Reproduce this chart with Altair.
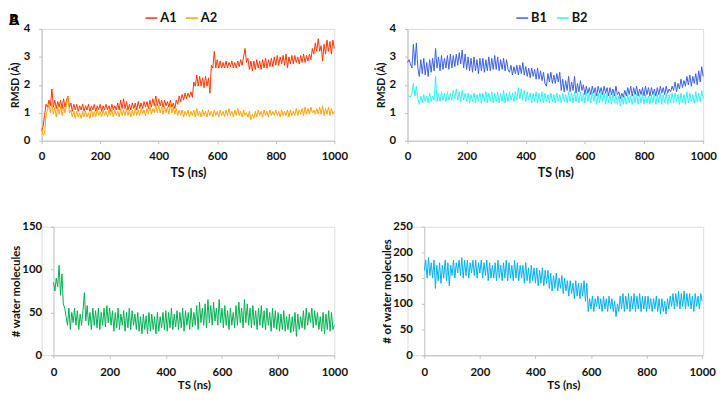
import altair as alt
import pandas as pd

# time axis (ns), one sample every 5 ns
ts = list(range(0, 1001, 5))

a1 = [0.35, 0.5, 0.9, 1.3, 1.2, 1.45, 1.25, 1.85, 1.2, 1.45,
      1.15, 1.4, 1.2, 1.45, 1.15, 1.5, 1.2, 1.45, 1.6, 1.2,
      1.35, 1.05, 1.3, 1.1, 1.3, 1.05, 1.25, 1.1, 1.3, 1.05,
      1.25, 1.1, 1.3, 1.05, 1.25, 1.1, 1.3, 1.05, 1.25, 1.1,
      1.3, 1.05, 1.25, 1.1, 1.3, 1.1, 1.25, 1.05, 1.3, 1.1,
      1.25, 1.1, 1.35, 1.1, 1.45, 1.15, 1.5, 1.15, 1.4, 1.1,
      1.3, 1.1, 1.35, 1.15, 1.35, 1.1, 1.4, 1.15, 1.35, 1.15,
      1.4, 1.2, 1.4, 1.15, 1.45, 1.2, 1.5, 1.25, 1.6, 1.25,
      1.5, 1.25, 1.45, 1.2, 1.45, 1.25, 1.4, 1.2, 1.45, 1.2,
      1.35, 1.15, 1.45, 1.3, 1.6, 1.4, 1.65, 1.45, 1.7, 1.5,
      1.7, 1.55, 1.75, 1.55, 2.1, 1.95, 2.35, 1.95, 2.3, 1.95,
      2.25, 1.9, 2.3, 1.95, 2.25, 1.7, 2.7, 2.6, 3.2, 2.6,
      2.9, 2.6, 2.85, 2.6, 2.8, 2.6, 2.85, 2.6, 2.8, 2.65,
      2.85, 2.6, 2.8, 2.6, 2.85, 2.65, 2.9, 2.7, 3.0, 3.3,
      2.8, 2.95, 2.55, 2.85, 2.5, 2.85, 2.55, 2.9, 2.6, 2.85,
      2.55, 2.9, 2.6, 2.95, 2.6, 2.9, 2.65, 2.95, 2.65, 3.0,
      2.7, 3.05, 2.7, 3.0, 2.75, 3.05, 2.7, 3.1, 2.6, 3.0,
      2.75, 3.05, 2.75, 3.05, 2.8, 3.0, 2.75, 3.05, 2.8, 3.1,
      2.8, 3.05, 2.85, 3.1, 2.9, 3.3, 3.1, 3.5, 3.2, 3.65,
      3.2, 3.4, 2.85, 3.45, 3.1, 3.6, 3.2, 3.55, 3.1, 3.6,
      3.3]

a2 = [0.45, 0.2, 0.25, 0.9, 1.1, 1.3, 1.0, 1.35, 0.95, 1.2,
      0.85, 1.2, 0.95, 1.25, 0.9, 1.2, 1.0, 1.3, 1.6, 1.0,
      1.1, 0.85, 1.05, 0.8, 1.05, 0.85, 1.0, 0.8, 1.05, 0.85,
      1.05, 0.85, 1.0, 0.8, 1.1, 0.85, 1.05, 0.85, 1.1, 0.9,
      1.05, 0.85, 1.1, 0.9, 1.05, 0.85, 1.1, 0.9, 1.1, 0.85,
      1.1, 0.9, 1.05, 0.85, 1.15, 0.9, 1.1, 0.9, 1.15, 0.9,
      1.1, 0.85, 1.1, 0.9, 1.15, 0.9, 1.1, 0.9, 1.15, 0.95,
      1.1, 0.9, 1.15, 0.95, 1.2, 0.95, 1.15, 1.0, 1.3, 1.0,
      1.25, 1.0, 1.2, 0.95, 1.25, 1.0, 1.2, 0.95, 1.3, 1.0,
      1.2, 0.95, 1.15, 0.9, 1.1, 0.9, 1.1, 0.85, 1.05, 0.9,
      1.1, 0.85, 1.05, 0.9, 1.1, 0.85, 1.15, 0.9, 1.05, 0.85,
      1.1, 0.9, 1.05, 0.85, 1.1, 0.9, 1.05, 0.85, 1.1, 0.9,
      1.05, 0.85, 1.1, 0.9, 1.05, 0.85, 1.1, 0.9, 1.15, 0.9,
      1.05, 0.85, 1.1, 0.9, 1.15, 0.9, 1.05, 0.85, 1.1, 0.9,
      1.0, 0.85, 1.05, 0.75, 0.95, 0.8, 1.05, 0.85, 1.1, 0.9,
      1.05, 0.85, 1.1, 0.9, 1.05, 0.85, 1.1, 0.9, 1.05, 0.9,
      1.1, 0.9, 1.05, 0.85, 1.1, 0.9, 1.05, 0.9, 1.1, 0.85,
      1.1, 0.9, 1.05, 0.9, 1.15, 0.9, 1.1, 0.95, 1.15, 0.9,
      1.2, 0.95, 1.15, 0.95, 1.2, 1.0, 1.1, 0.95, 1.15, 0.95,
      1.2, 0.95, 1.25, 0.9, 1.15, 0.95, 1.2, 0.9, 1.15, 0.95,
      1.05]

b1 = [2.8, 2.9, 2.75, 2.6, 3.45, 2.7, 3.5, 2.6, 2.3, 2.9,
      2.4, 2.95, 2.35, 2.8, 2.3, 2.9, 2.45, 2.95, 2.5, 3.3,
      2.6, 3.0, 2.5, 3.05, 2.55, 2.95, 2.6, 3.05, 2.55, 3.1,
      2.6, 3.05, 2.65, 3.1, 2.7, 3.15, 2.75, 3.25, 2.6, 3.1,
      2.55, 3.0, 2.5, 2.95, 2.45, 3.0, 2.5, 2.9, 2.4, 2.95,
      2.5, 2.95, 2.45, 2.9, 2.5, 3.0, 2.5, 2.95, 2.55, 3.05,
      2.55, 3.0, 2.5, 2.9, 2.55, 2.95, 2.5, 2.9, 2.55, 2.45,
      2.7, 2.35, 2.65, 2.4, 2.7, 2.35, 2.7, 2.4, 2.8, 2.35,
      2.65, 2.3, 2.6, 2.25, 2.6, 2.3, 2.55, 2.2, 2.6, 2.2,
      2.5, 2.15, 2.45, 2.05, 1.95, 2.4, 2.1, 2.45, 2.05, 2.35,
      2.05, 2.4, 2.1, 2.45, 1.8, 2.2, 1.75, 2.15, 1.8, 2.3,
      1.75, 2.1, 1.8, 2.3, 1.7, 2.05, 1.75, 2.15, 1.8, 2.0,
      1.65, 1.95, 1.7, 1.9, 1.65, 1.95, 1.7, 1.9, 1.6, 1.95,
      1.7, 1.9, 1.65, 1.95, 1.7, 1.9, 1.6, 1.9, 1.65, 1.85,
      1.6, 1.95, 1.65, 1.75, 1.5, 1.7, 1.55, 1.8, 1.6, 1.9,
      1.65, 1.95, 1.6, 1.9, 1.65, 1.95, 1.6, 1.85, 1.65, 1.9,
      1.6, 1.95, 1.65, 1.9, 1.6, 1.9, 1.65, 1.85, 1.6, 1.9,
      1.65, 1.95, 1.7, 1.9, 1.65, 1.95, 1.7, 1.85, 1.75, 1.95,
      1.8, 2.1, 1.75, 2.05, 1.85, 2.2, 1.9, 2.15, 1.95, 2.3,
      2.0, 2.35, 1.95, 2.3, 2.05, 2.4, 2.0, 2.5, 2.1, 2.65,
      2.3]

b2 = [1.6, 1.6, 1.55, 1.7, 2.05, 1.6, 1.95, 1.5, 1.3, 1.6,
      1.35, 1.65, 1.4, 1.6, 1.35, 1.7, 1.4, 1.6, 1.45, 2.3,
      1.4, 1.7, 1.4, 1.75, 1.45, 1.7, 1.4, 1.75, 1.45, 1.7,
      1.45, 1.8, 1.5, 1.85, 1.45, 1.75, 1.4, 1.8, 1.45, 1.7,
      1.4, 1.7, 1.35, 1.65, 1.4, 1.7, 1.35, 1.65, 1.4, 1.7,
      1.35, 1.7, 1.4, 1.75, 1.35, 1.7, 1.4, 1.75, 1.35, 1.7,
      1.4, 1.75, 1.35, 1.7, 1.4, 1.8, 1.35, 1.7, 1.4, 1.75,
      1.45, 1.7, 1.4, 1.75, 1.45, 1.9, 1.5, 1.85, 1.45, 1.8,
      1.4, 1.75, 1.45, 1.7, 1.35, 1.7, 1.4, 1.75, 1.35, 1.7,
      1.4, 1.75, 1.35, 1.7, 1.4, 1.65, 1.35, 1.7, 1.4, 1.65,
      1.35, 1.7, 1.4, 1.65, 1.35, 1.7, 1.4, 1.65, 1.35, 1.75,
      1.4, 1.7, 1.35, 1.75, 1.4, 1.7, 1.35, 1.75, 1.4, 1.7,
      1.35, 1.75, 1.4, 1.7, 1.35, 1.75, 1.4, 1.7, 1.3, 1.7,
      1.35, 1.75, 1.4, 1.7, 1.3, 1.7, 1.35, 1.65, 1.3, 1.7,
      1.35, 1.65, 1.3, 1.6, 1.25, 1.55, 1.3, 1.6, 1.3, 1.65,
      1.35, 1.6, 1.3, 1.65, 1.35, 1.7, 1.3, 1.65, 1.35, 1.7,
      1.3, 1.65, 1.35, 1.6, 1.3, 1.65, 1.35, 1.7, 1.3, 1.65,
      1.35, 1.7, 1.3, 1.65, 1.35, 1.7, 1.3, 1.65, 1.35, 1.7,
      1.35, 1.7, 1.4, 1.65, 1.3, 1.7, 1.35, 1.65, 1.3, 1.75,
      1.35, 1.7, 1.4, 1.65, 1.35, 1.75, 1.4, 1.7, 1.4, 1.8,
      1.5]

water_a = [85, 75, 90, 80, 105, 70, 95, 60, 55, 45,
           35, 55, 30, 50, 38, 55, 35, 52, 30, 48,
           35, 52, 73, 40, 58, 35, 50, 30, 55, 35,
           52, 32, 55, 30, 50, 35, 55, 33, 58, 38,
           55, 35, 52, 28, 50, 32, 55, 30, 48, 35,
           52, 28, 50, 32, 55, 30, 52, 35, 48, 30,
           50, 28, 45, 25, 48, 30, 46, 25, 50, 28,
           48, 30, 45, 25, 50, 28, 45, 32, 50, 30,
           52, 28, 50, 32, 55, 30, 48, 33, 52, 30,
           50, 32, 55, 28, 52, 35, 50, 30, 55, 33,
           50, 35, 58, 30, 62, 38, 55, 35, 60, 32,
           65, 38, 58, 35, 62, 40, 55, 35, 65, 38,
           55, 32, 58, 35, 52, 30, 55, 35, 50, 32,
           58, 35, 62, 38, 55, 32, 65, 38, 60, 35,
           55, 32, 58, 35, 52, 30, 55, 35, 58, 32,
           52, 30, 55, 35, 50, 28, 55, 32, 52, 30,
           50, 28, 48, 30, 52, 28, 45, 30, 48, 26,
           45, 28, 50, 22, 48, 30, 45, 32, 52, 30,
           55, 35, 50, 38, 55, 32, 52, 35, 50, 30,
           45, 28, 50, 25, 48, 30, 52, 28, 50, 30,
           35]

water_b = [165, 185, 150, 190, 155, 180, 150, 185, 130, 175,
           145, 180, 140, 175, 150, 185, 145, 180, 135, 175,
           155, 185, 150, 180, 160, 185, 155, 190, 150, 185,
           155, 185, 150, 180, 160, 185, 155, 185, 150, 180,
           160, 185, 150, 180, 155, 185, 145, 180, 150, 175,
           150, 180, 145, 185, 150, 175, 145, 180, 150, 185,
           145, 180, 150, 175, 145, 185, 150, 180, 145, 175,
           150, 175, 140, 180, 145, 170, 140, 175, 145, 170,
           140, 170, 135, 165, 140, 170, 135, 165, 140, 165,
           130, 160, 125, 155, 130, 160, 125, 150, 130, 155,
           120, 150, 125, 145, 115, 145, 120, 140, 110, 145,
           115, 140, 110, 140, 115, 145, 105, 140, 85, 110,
           90, 115, 85, 110, 95, 115, 90, 110, 85, 115,
           90, 110, 85, 115, 90, 110, 85, 105, 75, 100,
           85, 115, 90, 120, 85, 115, 90, 120, 85, 115,
           90, 120, 85, 115, 90, 120, 85, 115, 90, 115,
           85, 115, 90, 110, 85, 110, 90, 115, 85, 110,
           80, 110, 85, 105, 80, 110, 90, 115, 95, 120,
           90, 120, 95, 125, 90, 120, 95, 125, 90, 120,
           95, 120, 90, 115, 85, 120, 95, 115, 90, 120,
           105]

x_ticks = [0, 200, 400, 600, 800, 1000]
rmsd_ticks = [0, 1, 2, 3, 4]
water_a_ticks = [0, 50, 100, 150]
water_b_ticks = [0, 50, 100, 150, 200, 250]
panel_letters = ["A", "B"]

FONT = "Lato"
GRAY = "#bfbfbf"
INK = "#111111"


def long_df(names, series):
    frames = [pd.DataFrame({"t": ts, "v": s, "series": n}) for n, s in zip(names, series)]
    return pd.concat(frames, ignore_index=True)


def x_axis(title_size, label_pad, title_pad):
    return alt.Axis(values=x_ticks, title="TS (ns)", grid=False, format="d",
                    domainColor=GRAY, tickColor=GRAY, tickSize=3,
                    labelPadding=label_pad, labelFont=FONT, labelFontSize=11.5,
                    labelFontWeight="bold", labelColor=INK, labelFlush=False,
                    titleFont=FONT, titleFontSize=title_size, titleFontWeight="bold",
                    titleColor=INK, titlePadding=title_pad)


def y_axis(title, ticks, title_size, title_pad, offset=0):
    return alt.Axis(values=ticks, title=title, grid=False, format="d", offset=offset,
                    domainColor=GRAY, tickColor=GRAY, tickSize=3,
                    labelPadding=9, labelFont=FONT, labelFontSize=11.5,
                    labelFontWeight="bold", labelColor=INK, labelFlush=False,
                    titleFont=FONT, titleFontSize=title_size, titleFontWeight="bold",
                    titleColor=INK, titlePadding=title_pad)


def legend(x):
    return alt.Legend(title=None, orient="none", legendX=x, legendY=-18,
                      direction="horizontal", symbolType="stroke", symbolSize=144,
                      symbolStrokeWidth=1.5, labelFont=FONT, labelFontSize=13,
                      labelFontWeight="bold", labelColor=INK, labelOffset=2,
                      columnPadding=6, padding=0)


tl_lines = alt.Chart(long_df(["A1", "A2"], [a1, a2])).mark_line(strokeWidth=1).encode(
    x=alt.X("t:Q", scale=alt.Scale(domain=[0, 1000], nice=False), axis=x_axis(12.5, 7, 5)),
    y=alt.Y("v:Q", scale=alt.Scale(domain=[0, 4], nice=False),
            axis=y_axis("RMSD (Å)", rmsd_ticks, 10.5, 3)),
    color=alt.Color("series:N", scale=alt.Scale(domain=["A1", "A2"], range=["#ff3300", "#ffa000"]),
                    legend=legend(104)),
)
letters = alt.Chart(pd.DataFrame({"letter": panel_letters})).mark_text(
    font=FONT, fontSize=15, fontWeight="bold", color="black", align="left", baseline="alphabetic"
).encode(text="letter:N", x=alt.value(-33), y=alt.value(-4))
tl = alt.layer(tl_lines, letters).properties(width=296, height=113)

tr = alt.Chart(long_df(["B1", "B2"], [b1, b2])).mark_line(strokeWidth=1).encode(
    x=alt.X("t:Q", scale=alt.Scale(domain=[0, 1000], nice=False), axis=x_axis(12.5, 7, 5)),
    y=alt.Y("v:Q", scale=alt.Scale(domain=[0, 4], nice=False),
            axis=y_axis("RMSD (Å)", rmsd_ticks, 10.5, 3)),
    color=alt.Color("series:N", scale=alt.Scale(domain=["B1", "B2"], range=["#3b5fe6", "#2ff0f0"]),
                    legend=legend(109)),
).properties(width=299, height=113)

# bottom panels share the top panels' columns; their plot areas start a little further right
bl = alt.Chart(pd.DataFrame({"t": ts, "v": water_a})).mark_line(strokeWidth=1, color="#00b050").encode(
    x=alt.X("t:Q", scale=alt.Scale(domain=[0, 1000], nice=False, range=[12, 296]),
            axis=x_axis(11.5, 8, 2)),
    y=alt.Y("v:Q", scale=alt.Scale(domain=[0, 150], nice=False),
            axis=y_axis("# water molecules", water_a_ticks, 11.5, 0, offset=-12)),
).properties(width=296, height=130)

br = alt.Chart(pd.DataFrame({"t": ts, "v": water_b})).mark_line(strokeWidth=1, color="#00b0f0").encode(
    x=alt.X("t:Q", scale=alt.Scale(domain=[0, 1000], nice=False, range=[17, 298]),
            axis=x_axis(11.5, 8, 2)),
    y=alt.Y("v:Q", scale=alt.Scale(domain=[0, 250], nice=False),
            axis=y_axis("# of water molecules", water_b_ticks, 11.5, 0, offset=-17)),
).properties(width=299, height=130)

chart = alt.concat(
    tl, tr, bl, br,
    columns=2, bounds="flush",
    spacing={"row": 87, "column": 74},
).resolve_scale(color="independent").properties(
    padding={"left": 0, "top": 0, "right": 0, "bottom": 0}
).configure_view(stroke=None).configure(background="white")

chart.save("out.html", embed_options={"renderer": "svg", "actions": False})
